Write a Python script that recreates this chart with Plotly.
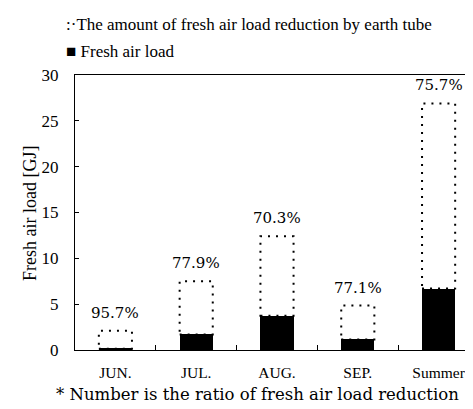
import plotly.graph_objects as go

categories = ["JUN.", "JUL.", "AUG.", "SEP.", "Summer"]
fresh_air_load = [0.15, 1.7, 3.75, 1.15, 6.7]
total_load = [2.1, 7.5, 12.4, 4.85, 26.9]
ratio_labels = ["95.7%", "77.9%", "70.3%", "77.1%", "75.7%"]
y_ticks = [0, 5, 10, 15, 20, 25, 30]

reduction = [t - f for t, f in zip(total_load, fresh_air_load)]
BW = 0.41
SERIF = "Liberation Serif, Times New Roman, serif"
WIDE = "DejaVu Serif, serif"

W, H = 473, 409
L, R, T, B = 67, 2, 67, 67
pw, ph = W - L - R, H - T - B

def px(x):
    return (x - L) / pw

def py(y):
    return 1 - (y - T) / ph

fig = go.Figure()
fig.add_trace(go.Bar(x=categories, y=fresh_air_load, width=BW,
                     marker=dict(color="black", line=dict(width=0)),
                     name="Fresh air load", showlegend=False))
fig.add_trace(go.Bar(x=categories, y=reduction, width=BW,
                     marker=dict(color="rgba(255,255,255,0)", line=dict(width=0)),
                     name="The amount of fresh air load reduction by earth tube",
                     showlegend=False))

shapes = []
for i, (f, t) in enumerate(zip(fresh_air_load, total_load)):
    shapes.append(dict(type="rect", xref="x", yref="y",
                       x0=i - BW / 2, x1=i + BW / 2, y0=f, y1=t,
                       line=dict(color="black", width=2, dash="2px,6px"),
                       fillcolor="rgba(0,0,0,0)", layer="above"))

annotations = []
for c, t, lab in zip(categories, total_load, ratio_labels):
    annotations.append(dict(x=c, y=t, xref="x", yref="y", text=lab,
                            showarrow=False, yshift=18, yanchor="middle",
                            font=dict(family=WIDE, size=15, color="black")))

annotations += [
    dict(x=px(56), y=py(17), xref="paper", yref="paper",
         text=":·The amount of fresh air load reduction by earth tube",
         showarrow=False, xanchor="left", yanchor="middle",
         font=dict(family=SERIF, size=17, color="black")),
    dict(x=px(56), y=py(44), xref="paper", yref="paper", text="■ Fresh air load",
         showarrow=False, xanchor="left", yanchor="middle",
         font=dict(family=SERIF, size=17, color="black")),
    dict(x=px(46), y=py(386), xref="paper", yref="paper",
         text="* Number is the ratio of fresh air load reduction",
         showarrow=False, xanchor="left", yanchor="middle",
         font=dict(family=WIDE, size=16.5, color="black")),
    dict(x=px(22), y=py(206), xref="paper", yref="paper",
         text="Fresh air load [GJ]", textangle=-90,
         showarrow=False, xanchor="center", yanchor="middle",
         font=dict(family=SERIF, size=18, color="black")),
]

fig.update_layout(
    width=W, height=H,
    margin=dict(l=L, r=R, t=T, b=B, autoexpand=False),
    barmode="stack",
    plot_bgcolor="white", paper_bgcolor="white",
    shapes=shapes, annotations=annotations,
    font=dict(family=SERIF, color="black"),
    xaxis=dict(showline=True, linecolor="black", linewidth=1, mirror=True,
               ticks="inside", tickson="boundaries", ticklen=5, tickcolor="black",
               tickfont=dict(family=SERIF, size=15.5, color="black"),
               ticklabelstandoff=8,
               showgrid=False, automargin=False),
    yaxis=dict(range=[0, 30], tickvals=y_ticks, showline=True, linecolor="black",
               linewidth=1, mirror=True, ticks="inside", ticklen=4, tickcolor="black",
               tickfont=dict(family=SERIF, size=17, color="black"),
               ticklabelstandoff=12,
               showgrid=False, zeroline=False, automargin=False),
)

fig.write_html("out.html")
